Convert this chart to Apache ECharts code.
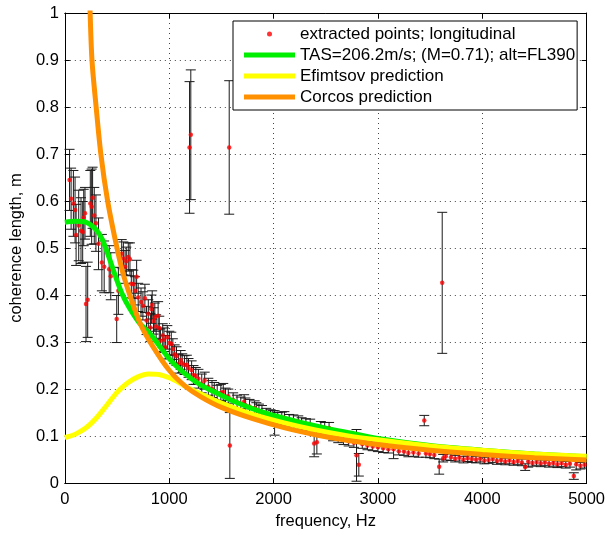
<!DOCTYPE html>
<html>
<head>
<meta charset="utf-8">
<script src="https://cdn.jsdelivr.net/npm/echarts@6/dist/echarts.min.js"></script>
<style>html,body{margin:0;padding:0;background:#fff}#c{width:608px;height:535px}</style>
</head>
<body>
<div id="c"></div>
<script>
// extracted points (frequency Hz, coherence length m, error half-width m)
const freq = [45,60,82,98,108,133,155,171,181,193,203,219,244,257,266,282,298,323,355,377,425,440,497,513,545,561,577,589,608,624,637,656,672,688,703,730,748,767,783,800,820,830,837,850,862,875,894,905,916,938,950,963,982,1001,1020,1035,1052,1070,1090,1110,1125,1147,1169,1185,1195,1207,1215,1233,1255,1280,1312,1340,1375,1410,1432,1460,1495,1518,1540,1566,1575,1581,1613,1650,1686,1718,1730,1770,1819,1835,1860,1889,1930,1971,1993,2010,2040,2079,2104,2150,2190,2237,2269,2310,2351,2389,2415,2453,2490,2532,2570,2620,2670,2720,2770,2795,2817,2850,2900,2950,3000,3050,3100,3150,3200,3250,3292,3340,3390,3444,3460,3498,3540,3587,3616,3625,3650,3700,3740,3780,3820,3860,3900,3940,3980,4020,4060,4100,4140,4180,4220,4260,4300,4340,4380,4411,4440,4480,4520,4560,4600,4640,4680,4720,4760,4800,4840,4877,4900,4940,4980];
const coh = [0.645,0.605,0.595,0.581,0.528,0.548,0.537,0.534,0.565,0.574,0.381,0.39,0.595,0.588,0.607,0.569,0.553,0.509,0.469,0.46,0.455,0.44,0.349,0.409,0.488,0.478,0.46,0.472,0.481,0.476,0.424,0.423,0.409,0.439,0.395,0.385,0.377,0.393,0.346,0.36,0.331,0.37,0.379,0.345,0.353,0.333,0.356,0.33,0.303,0.314,0.305,0.289,0.31,0.298,0.296,0.285,0.274,0.27,0.254,0.262,0.255,0.251,0.252,0.245,0.714,0.741,0.24,0.23,0.228,0.222,0.212,0.218,0.205,0.2,0.196,0.19,0.192,0.194,0.184,0.185,0.714,0.08,0.177,0.172,0.168,0.173,0.166,0.163,0.16,0.156,0.153,0.15,0.146,0.143,0.141,0.128,0.137,0.138,0.139,0.134,0.133,0.131,0.127,0.125,0.124,0.084,0.087,0.119,0.117,0.117,0.1,0.096,0.092,0.089,0.086,0.059,0.039,0.083,0.08,0.078,0.076,0.074,0.072,0.072,0.068,0.067,0.064,0.065,0.063,0.133,0.063,0.062,0.06,0.035,0.426,0.053,0.057,0.055,0.052,0.054,0.05,0.053,0.051,0.05,0.052,0.048,0.049,0.051,0.047,0.049,0.046,0.048,0.045,0.047,0.044,0.034,0.046,0.043,0.045,0.042,0.044,0.041,0.043,0.04,0.042,0.039,0.041,0.015,0.04,0.037,0.039];
const errHalf = [0.065,0.065,0.07,0.07,0.065,0.075,0.07,0.065,0.06,0.055,0.08,0.08,0.07,0.08,0.065,0.06,0.06,0.055,0.06,0.055,0.05,0.05,0.05,0.05,0.03,0.035,0.035,0.03,0.03,0.035,0.03,0.03,0.03,0.035,0.03,0.03,0.03,0.03,0.03,0.03,0.03,0.03,0.03,0.028,0.03,0.025,0.03,0.025,0.025,0.025,0.025,0.025,0.025,0.025,0.025,0.022,0.02,0.02,0.02,0.02,0.02,0.02,0.02,0.02,0.14,0.138,0.02,0.02,0.018,0.02,0.02,0.018,0.018,0.018,0.018,0.018,0.018,0.018,0.018,0.015,0.142,0.07,0.015,0.015,0.015,0.015,0.015,0.015,0.015,0.015,0.015,0.015,0.013,0.013,0.013,0.026,0.013,0.013,0.013,0.012,0.012,0.012,0.012,0.012,0.012,0.028,0.025,0.012,0.012,0.012,0.01,0.01,0.01,0.01,0.01,0.055,0.024,0.009,0.009,0.009,0.009,0.009,0.008,0.02,0.008,0.008,0.008,0.008,0.008,0.011,0.008,0.008,0.008,0.016,0.15,0.008,0.008,0.007,0.007,0.007,0.007,0.007,0.007,0.007,0.007,0.007,0.007,0.007,0.007,0.007,0.007,0.007,0.007,0.007,0.007,0.007,0.012,0.007,0.007,0.007,0.007,0.007,0.007,0.007,0.007,0.007,0.007,0.007,0.012,0.007,0.007,0.007];

// fitted / predicted curves
const tasF = [0,100,200,300,360,425,490,550,615,710,820,1000,1150,1300,1470,1630,1790,1950,2100,2260,2500,2750,3000,3500,4000,4500,5000];
const tasV = [0.555,0.557,0.555,0.539,0.518,0.479,0.437,0.402,0.374,0.342,0.317,0.265,0.233,0.209,0.19,0.173,0.159,0.147,0.138,0.129,0.117,0.106,0.095,0.08,0.07,0.062,0.056];
const efiF = [0,100,200,300,400,500,600,700,800,900,1000,1100,1200,1300,1500,1800,2100,2400,2700,3000,3500,4000,4500,5000];
const efiV = [0.097,0.104,0.117,0.138,0.165,0.193,0.213,0.226,0.232,0.231,0.224,0.213,0.2,0.19,0.17,0.146,0.128,0.113,0.101,0.092,0.079,0.07,0.062,0.057];
const corF = [240,260,300,345,410,490,550,630,725,837,1000,1150,1300,1500,1800,2100,2400,2700,3000,3500,4000,4500,5000];
const corV = [1.02,0.9,0.8,0.7,0.6,0.51,0.452,0.395,0.338,0.293,0.24,0.207,0.184,0.161,0.137,0.118,0.103,0.091,0.082,0.07,0.061,0.054,0.049];

const names = ['extracted points; longitudinal','TAS=206.2m/s; (M=0.71); alt=FL390','Efimtsov prediction','Corcos prediction'];
const FONT = 'Liberation Sans, Arial, Helvetica, sans-serif';

const pts = freq.map((f,i)=>[f, coh[i]]);
const bars = freq.map((f,i)=>[f, coh[i]-errHalf[i], coh[i]+errHalf[i]]);
const zip = (a,b)=>a.map((x,i)=>[x,b[i]]);

const chart = echarts.init(document.getElementById('c'), null, {renderer:'canvas'});
const axisCommon = {
  axisLine:{show:true, onZero:false, lineStyle:{color:'#000', width:1}},
  axisTick:{show:true, inside:true, length:5, lineStyle:{color:'#000', width:1}},
};
chart.setOption({
  animation:false,
  backgroundColor:'#fff',
  grid:{left:62, right:20, top:13, bottom:48, containLabel:false},
  xAxis:[
    Object.assign({type:'value', min:0, max:5000, interval:1000, position:'bottom',
      name:'frequency, Hz', nameLocation:'middle', nameGap:25,
      nameTextStyle:{fontFamily:FONT, fontSize:16.5, color:'#000'},
      axisLabel:{fontFamily:FONT, fontSize:16.5, color:'#000', margin:8, formatter:v=>String(v)},
      splitLine:{show:true, lineStyle:{color:'#444', width:1, type:[1,4]}}}, axisCommon),
    Object.assign({type:'value', min:0, max:5000, interval:1000, position:'top',
      axisLabel:{show:false}, splitLine:{show:false}}, axisCommon)
  ],
  yAxis:[
    Object.assign({type:'value', min:0, max:1, interval:0.1, position:'left',
      name:'coherence length, m', nameLocation:'middle', nameGap:39,
      nameTextStyle:{fontFamily:FONT, fontSize:16.5, color:'#000'},
      axisLabel:{fontFamily:FONT, fontSize:16.5, color:'#000', margin:6},
      splitLine:{show:true, lineStyle:{color:'#444', width:1, type:[1,4]}}}, axisCommon),
    Object.assign({type:'value', min:0, max:1, interval:0.1, position:'right',
      axisLabel:{show:false}, splitLine:{show:false}}, axisCommon)
  ],
  legend:{
    data:[
      {name:names[0], icon:'circle'},
      {name:names[1], icon:'rect'},
      {name:names[2], icon:'rect'},
      {name:names[3], icon:'rect'}
    ],
    orient:'vertical', left:233, top:21,
    itemWidth:51, itemHeight:5, itemGap:0,
    padding:[2.5,2,2.5,11],
    borderColor:'#000', borderWidth:1, backgroundColor:'#fff',
    textStyle:{fontFamily:FONT, fontSize:17, color:'#000', lineHeight:21},
    selectedMode:false
  },
  series:[
    {type:'custom', name:'errorbars', data:bars, clip:true, z:1,
      encode:{x:0, y:[1,2]},
      renderItem:function(params, api){
        const x = api.value(0);
        const lo = api.coord([x, api.value(1)]);
        const hi = api.coord([x, api.value(2)]);
        const c = 5;
        const st = {stroke:'#1a1a1a', lineWidth:1};
        return {type:'group', children:[
          {type:'line', shape:{x1:hi[0], y1:hi[1], x2:lo[0], y2:lo[1]}, style:st},
          {type:'line', shape:{x1:hi[0]-c, y1:hi[1], x2:hi[0]+c, y2:hi[1]}, style:st},
          {type:'line', shape:{x1:lo[0]-c, y1:lo[1], x2:lo[0]+c, y2:lo[1]}, style:st}
        ]};
      }},
    {type:'scatter', name:names[0], data:pts, symbol:'circle', symbolSize:4.5, z:2,
      itemStyle:{color:'#ff0000'}},
    {type:'line', name:names[1], data:zip(tasF,tasV), showSymbol:false, symbol:'none', smooth:0.3, z:3,
      lineStyle:{color:'#00ee00', width:5}, itemStyle:{color:'#00ee00'}},
    {type:'line', name:names[2], data:zip(efiF,efiV), showSymbol:false, symbol:'none', smooth:0.3, z:3,
      lineStyle:{color:'#ffff00', width:5}, itemStyle:{color:'#ffff00'}},
    {type:'line', name:names[3], data:zip(corF,corV), showSymbol:false, symbol:'none', smooth:0.3, z:3,
      lineStyle:{color:'#ff9000', width:5}, itemStyle:{color:'#ff9000'}}
  ]
});
</script>
</body>
</html>
